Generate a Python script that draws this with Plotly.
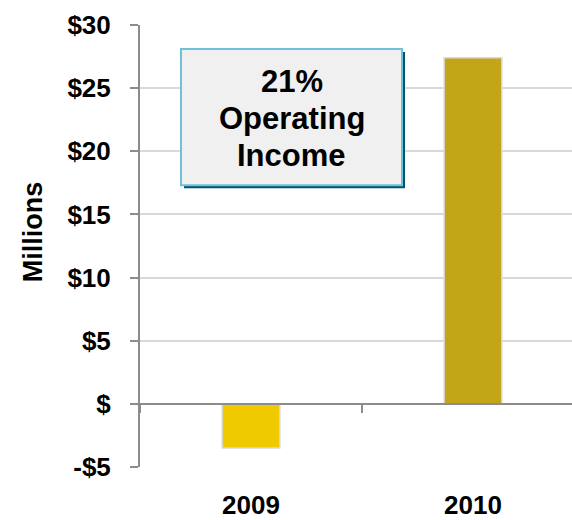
import plotly.graph_objects as go

years = ["2009", "2010"]
income = [-3.5, 27.4]          # operating income, $ millions
bar_colors = ["#EFCA00", "#C2A618"]
y_ticks = [-5, 0, 5, 10, 15, 20, 25, 30]
y_tick_text = ["-$5", "$", "$5", "$10", "$15", "$20", "$25", "$30"]
callout_lines = ["21%", "Operating", "Income"]

FONT = "Liberation Sans, Arial, sans-serif"
AXIS_GRAY = "#8c8c8c"
GRID_GRAY = "#d9d9d9"

fig = go.Figure()
fig.add_trace(go.Bar(
    x=years, y=income, width=0.26,
    marker=dict(color=bar_colors, line=dict(color=GRID_GRAY, width=1.5)),
    hoverinfo="skip", showlegend=False,
))
# companion trace so the zero-line category axis is drawn
fig.add_trace(go.Scatter(
    x=years, y=[None, None], xaxis="x2", yaxis="y",
    mode="markers", showlegend=False, hoverinfo="skip",
))

x_range = [-0.5, 1.446]
y_range = [-5, 30]

fig.update_layout(
    width=572, height=520,
    margin=dict(l=140, r=0, t=25, b=53),
    paper_bgcolor="white", plot_bgcolor="white",
    font=dict(family=FONT, color="black"),
    xaxis=dict(
        type="category", range=x_range, categoryarray=years,
        showline=False, showgrid=False, zeroline=False,
        ticks="", ticklabelstandoff=20, automargin=False,
        tickfont=dict(size=26, family=FONT, weight="bold"),
    ),
    xaxis2=dict(
        type="category", range=x_range, categoryarray=years,
        overlaying="x", anchor="free",
        position=(0 - y_range[0]) / (y_range[1] - y_range[0]),
        showline=True, linecolor=AXIS_GRAY, linewidth=2,
        ticks="outside", tickson="boundaries", ticklen=8,
        tickcolor=AXIS_GRAY, tickwidth=1.5,
        showticklabels=False, showgrid=False, zeroline=False,
    ),
    yaxis=dict(
        range=y_range, tickvals=y_ticks, ticktext=y_tick_text,
        showline=True, linecolor=AXIS_GRAY, linewidth=2,
        ticks="outside", ticklen=8, tickcolor=AXIS_GRAY, tickwidth=1.5,
        showgrid=True, gridcolor=GRID_GRAY, gridwidth=1.5,
        zeroline=False, ticklabelstandoff=14, automargin=False,
        tickfont=dict(size=26, family=FONT, weight="bold"),
    ),
)

# axis title
fig.add_annotation(
    text="Millions", xref="paper", yref="paper",
    x=(33 - 140) / 432, y=(466.5 - 232) / 441.5,
    xanchor="center", yanchor="middle", textangle=-90, showarrow=False,
    font=dict(size=27, family=FONT, color="black", weight="bold"),
)

# callout box with drop shadow
bx0, bx1 = (181 - 140) / 432, (402 - 140) / 432
by0, by1 = (466.5 - 185) / 441.5, (466.5 - 49) / 441.5
dx, dy = 3 / 432, 3 / 441.5
fig.add_shape(type="rect", xref="paper", yref="paper",
              x0=bx0 + dx, x1=bx1 + dx, y0=by0 - dy, y1=by1 - dy,
              fillcolor="#00566F", line=dict(width=0), layer="above")
fig.add_shape(type="rect", xref="paper", yref="paper",
              x0=bx0, x1=bx1, y0=by0, y1=by1,
              fillcolor="#F0F0F0", line=dict(color="#6EC1DA", width=2),
              layer="above")
# callout text, one line at a time for tight line spacing
line_gap = 37 / 441.5
first_line = (466.5 - 81) / 441.5
for i, line in enumerate(callout_lines):
    fig.add_annotation(
        text=line, xref="paper", yref="paper",
        x=(bx0 + bx1) / 2, y=first_line - i * line_gap,
        xanchor="center", yanchor="middle", align="center", showarrow=False,
        font=dict(size=31, family=FONT, color="black", weight="bold"),
    )

fig.write_html("out.html")
